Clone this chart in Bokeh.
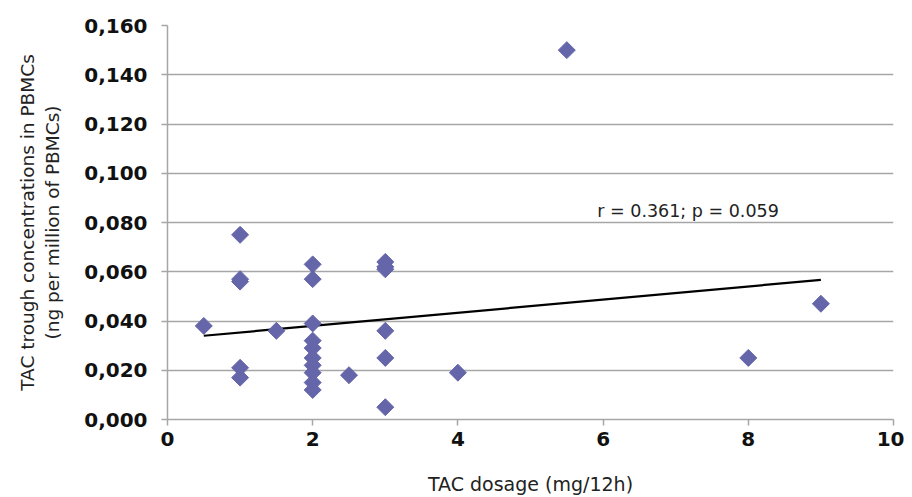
from bokeh.plotting import figure
from bokeh.models import Range1d, FixedTicker, CustomJSTickFormatter, Label
from bokeh.embed import file_html
from bokeh.resources import INLINE
import numpy as np

# Data
dose = [0.5, 1, 1, 1, 1, 1, 1.5,
        2, 2, 2, 2, 2, 2, 2, 2, 2, 2,
        2.5, 3, 3, 3, 3, 3, 3, 4, 5.5, 8, 9]
conc = [0.038, 0.075, 0.057, 0.056, 0.021, 0.017, 0.036,
        0.063, 0.057, 0.039, 0.032, 0.029, 0.025, 0.022, 0.019, 0.015, 0.012,
        0.018, 0.064, 0.062, 0.061, 0.036, 0.025, 0.005, 0.019, 0.150, 0.025, 0.047]
trend_x = [0.5, 9.0]
trend_y = [0.0340, 0.0567]
x_ticks = [0, 2, 4, 6, 8, 10]
y_ticks = [0.0, 0.02, 0.04, 0.06, 0.08, 0.10, 0.12, 0.14, 0.16]
annotation = "r = 0.361; p = 0.059"

p = figure(width=904, height=497, output_backend="svg", toolbar_location=None,
           x_range=Range1d(0, 10), y_range=Range1d(0, 0.16),
           min_border_left=167, min_border_right=11, min_border_top=25, min_border_bottom=76)
p.outline_line_color = None
p.background_fill_color = "white"

p.xgrid.grid_line_color = None
p.ygrid.grid_line_color = "#a6a6a6"
p.ygrid.grid_line_width = 1.5

p.xaxis.ticker = FixedTicker(ticks=x_ticks)
p.yaxis.ticker = FixedTicker(ticks=y_ticks)
p.yaxis.formatter = CustomJSTickFormatter(code="return tick.toFixed(3).replace('.', ',');")

for ax in (p.xaxis[0], p.yaxis[0]):
    ax.axis_line_color = "#a6a6a6"
    ax.axis_line_width = 1.5
    ax.major_tick_line_color = "#a6a6a6"
    ax.major_tick_line_width = 1.5
    ax.major_tick_in = 0
    ax.major_tick_out = 6
    ax.minor_tick_line_color = None
    ax.major_label_text_font = "DejaVu Sans"
    ax.major_label_text_font_style = "bold"
    ax.major_label_text_font_size = "20px"
    ax.major_label_text_color = "#111111"
    ax.axis_label_text_font = "DejaVu Sans"
    ax.axis_label_text_font_style = "normal"
    ax.axis_label_text_color = "#222222"

p.yaxis.axis_label_text_font_size = "18.5px"
p.xaxis.axis_label_text_font_size = "19px"
p.yaxis.major_label_standoff = 14
p.xaxis.major_label_standoff = 6
p.xaxis.axis_label = "TAC dosage (mg/12h)"
p.yaxis.axis_label = "TAC trough concentrations in PBMCs\n(ng per million of PBMCs)"
p.yaxis.axis_label_standoff = 18
p.xaxis.axis_label_standoff = 24

p.line(trend_x, trend_y, line_color="black", line_width=2.2)
p.scatter(dose, conc, marker="square", size=12, angle=np.pi / 4,
          fill_color="#6566aa", line_color="#6566aa")

p.add_layout(Label(x=5.92, y=0.0848, text=annotation, text_font="DejaVu Sans",
                   text_font_size="17.5px", text_color="#222222", text_baseline="middle"))

open("out.html", "w").write(file_html(p, INLINE))
